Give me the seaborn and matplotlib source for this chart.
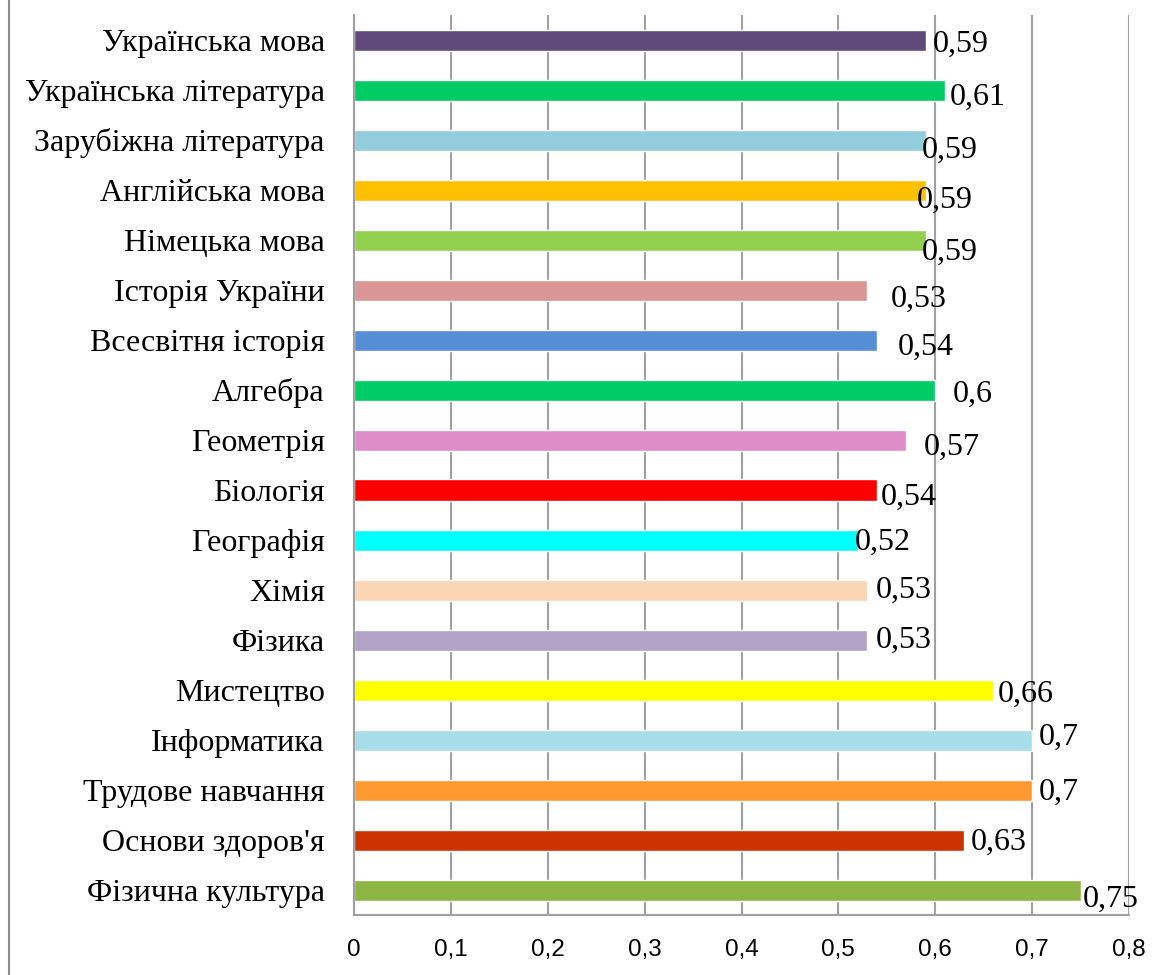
import seaborn as sns
import numpy as np
import pandas as pd
from matplotlib import pyplot as plt
from matplotlib.lines import Line2D
from matplotlib.ticker import FuncFormatter, FixedLocator

subjects = [
    'Українська мова', 'Українська література', 'Зарубіжна література',
    'Англійська мова', 'Німецька мова', 'Історія України', 'Всесвітня історія',
    'Алгебра', 'Геометрія', 'Біологія', 'Географія', 'Хімія', 'Фізика',
    'Мистецтво', 'Інформатика', 'Трудове навчання', "Основи здоров'я",
    'Фізична культура',
]
scores = [0.59, 0.61, 0.59, 0.59, 0.59, 0.53, 0.54, 0.60, 0.57, 0.54,
          0.52, 0.53, 0.53, 0.66, 0.70, 0.70, 0.63, 0.75]
bar_colors = ['#604A7B', '#00CC66', '#92CDDC', '#FFC000', '#92D050', '#D99694',
              '#558ED5', '#00CC66', '#DF8DCA', '#FF0000', '#00FFFF', '#FCD5B5',
              '#B3A2C7', '#FFFF00', '#A6DDE9', '#FF9A33', '#CC3300', '#8DB544']
# value label nudges in pixels (dx, dy), as placed in the original
label_nudge = [(7, -4), (5, -7), (-4, -10), (-9, -10), (-4, -12), (23, -9), (21, -7),
               (18, -4), (18, -7), (4, -7), (-3, -2), (8, 0), (8, 0), (4, -4),
               (7, 3), (7, -2), (6, -2), (2, -9)]

df = pd.DataFrame({'subject': subjects, 'score': scores})

sns.set_style('white')
plt.rcParams['font.family'] = ['Liberation Serif', 'DejaVu Serif']
plt.rcParams['text.color'] = 'black'
plt.rcParams['xtick.labelcolor'] = 'black'
plt.rcParams['ytick.labelcolor'] = 'black'

grid_gray = '#A0A0A0'

fig = plt.figure(figsize=(11.65, 9.75), dpi=100)
ax = fig.add_axes([354 / 1165, 1 - 915 / 975, (1129 - 354) / 1165, 900 / 975])

sns.barplot(data=df, x='score', y='subject', hue='subject', palette=bar_colors,
            legend=False, orient='h', width=0.42, saturation=1, ax=ax)

ax.set_xlim(0, 0.8)
ax.set_ylim(len(subjects) - 0.5, -0.5)
ax.set_xticks(np.arange(0, 0.81, 0.1))
ax.xaxis.set_major_formatter(FuncFormatter(lambda v, _: f'{v:.1f}'.replace('.', ',') if v else '0'))
ax.set_xlabel('')
ax.set_ylabel('')

ax.xaxis.grid(True, color=grid_gray, linewidth=1.5)
ax.set_axisbelow(True)

for side in ['top', 'right']:
    ax.spines[side].set_visible(False)
for side in ['left', 'bottom']:
    ax.spines[side].set_color(grid_gray)
    ax.spines[side].set_linewidth(1.5)

ax.yaxis.set_minor_locator(FixedLocator(np.arange(-0.5, len(subjects), 1.0)))
ax.tick_params(axis='y', which='major', length=0, pad=21, labelsize=23, labelcolor='black')
ax.tick_params(axis='y', which='minor', length=6.5, width=1.5, color=grid_gray, direction='out')
ax.tick_params(axis='x', which='major', length=6, width=1.5, color=grid_gray, direction='out',
               pad=11, labelsize=17.5, labelcolor='black')
for lbl in ax.get_xticklabels():
    lbl.set_fontfamily(['Liberation Sans', 'DejaVu Sans'])

for i, (val, (dx, dy)) in enumerate(zip(scores, label_nudge)):
    ax.annotate(f'{val:g}'.replace('.', ','), xy=(val, i), xytext=(dx, dy),
                textcoords='offset pixels', ha='left', va='center', fontsize=23,
                color='black')

fig.add_artist(Line2D([9 / 1165, 9 / 1165], [0, 1], transform=fig.transFigure,
                      color='#8C8C8C', linewidth=1.5))

fig.savefig('out.png', dpi=100)
